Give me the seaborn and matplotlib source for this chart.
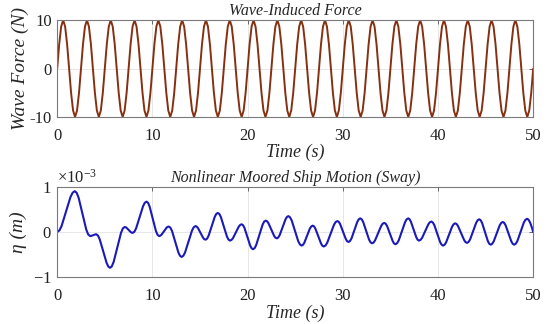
import numpy as np
import pandas as pd
import matplotlib
matplotlib.use("Agg")
import matplotlib.pyplot as plt
import seaborn as sns

# ---------------- data ----------------
# Wave-induced force: one cycle (period 2.5 s), repeated 20 times
force_cycle = [0, 5.0, 8.66, 10.0, 8.66, 5.0, 0, -5.0, -8.66, -10.0, -8.66, -5.0]
force_vals = force_cycle * 20 + [0]
force_time = np.linspace(0, 50, len(force_vals))

# Sway motion (units of 1e-3 m)
eta_time = [0, 0.46, 0.93, 1.39, 1.85, 2.25, 2.65, 3.05, 3.45, 3.61, 3.78, 3.94, 4.1, 4.46, 4.83, 5.19,
            5.55, 5.93, 6.32, 6.70, 7.08, 7.29, 7.51, 7.72, 7.93, 8.29, 8.66, 9.02, 9.38, 9.71, 10.04, 10.37,
            10.7, 10.96, 11.21, 11.47, 11.72, 12.06, 12.40, 12.73, 13.07, 13.43, 13.80, 14.16, 14.52, 14.79,
            15.05, 15.32, 15.58, 15.90, 16.23, 16.55, 16.87, 17.19, 17.51, 17.83, 18.15, 18.46, 18.76, 19.07,
            19.37, 19.67, 19.97, 20.27, 20.57, 20.90, 21.24, 21.57, 21.9, 22.19, 22.49, 22.78, 23.07, 23.37,
            23.68, 23.98, 24.28, 24.63, 24.98, 25.32, 25.67, 25.96, 26.25, 26.54, 26.83, 27.12, 27.42, 27.71,
            28.0, 28.36, 28.72, 29.07, 29.43, 29.72, 30.02, 30.31, 30.6, 30.91, 31.22, 31.52, 31.83, 32.14,
            32.45, 32.76, 33.07, 33.39, 33.71, 34.03, 34.35, 34.65, 34.94, 35.24, 35.53, 35.87, 36.20, 36.54,
            36.87, 37.15, 37.44, 37.72, 38.0, 38.33, 38.65, 38.98, 39.3, 39.61, 39.92, 40.22, 40.53, 40.85,
            41.17, 41.48, 41.8, 42.11, 42.43, 42.74, 43.05, 43.37, 43.69, 44.01, 44.33, 44.63, 44.93, 45.23,
            45.53, 45.85, 46.17, 46.48, 46.8, 47.10, 47.40, 47.70, 48.0, 48.34, 48.68, 49.01, 49.35, 49.51,
            49.68, 49.84, 50.0]
eta_e3 = [0, 0.131, 0.45, 0.769, 0.90, 0.755, 0.405, 0.055, -0.09, -0.084, -0.07, -0.056, -0.05, -0.158,
          -0.42, -0.682, -0.79, -0.659, -0.34, -0.021, 0.11, 0.091, 0.045, -0.001, -0.02, 0.081, 0.325, 0.569,
          0.67, 0.559, 0.29, 0.021, -0.09, -0.059, 0.015, 0.089, 0.12, 0.022, -0.215, -0.452, -0.55, -0.451,
          -0.21, 0.031, 0.13, 0.086, -0.02, -0.126, -0.17, -0.084, 0.125, 0.334, 0.42, 0.331, 0.115, -0.101,
          -0.19, -0.137, -0.01, 0.117, 0.17, 0.09, -0.105, -0.30, -0.38, -0.288, -0.065, 0.158, 0.25, 0.193,
          0.055, -0.083, -0.14, -0.068, 0.105, 0.278, 0.35, 0.255, 0.025, -0.205, -0.30, -0.236, -0.08, 0.076,
          0.14, 0.073, -0.09, -0.253, -0.32, -0.238, -0.04, 0.158, 0.24, 0.173, 0.01, -0.153, -0.22, -0.144,
          0.04, 0.224, 0.30, 0.22, 0.025, -0.17, -0.25, -0.184, -0.025, 0.134, 0.20, 0.131, -0.035, -0.201,
          -0.27, -0.187, 0.015, 0.217, 0.30, 0.228, 0.055, -0.118, -0.19, -0.129, 0.02, 0.169, 0.23, 0.153,
          -0.035, -0.223, -0.30, -0.228, -0.055, 0.118, 0.19, 0.127, -0.025, -0.177, -0.24, -0.164, 0.02,
          0.204, 0.28, 0.198, 0.0, -0.198, -0.28, -0.207, -0.03, 0.147, 0.22, 0.147, -0.03, -0.207, -0.28,
          -0.197, 0.005, 0.207, 0.29, 0.268, 0.205, 0.111, 0.0]

# extra readings close to each crest and trough (keep the peaks round)
eta_time_near_peaks = [0.23, 1.62, 2.05, 3.25, 3.53, 4.02, 4.28, 5.37, 5.74, 6.89, 7.19, 7.82, 8.11, 9.20,
                       9.55, 10.54, 10.83, 11.59, 11.89, 12.90, 13.25, 14.34, 14.65, 15.45, 15.74, 16.71,
                       17.03, 17.99, 18.30, 19.22, 19.52, 20.42, 20.74, 21.73, 22.05, 22.92, 23.22, 24.13,
                       24.45, 25.50, 25.82, 26.69, 26.98, 27.85, 28.18, 29.25, 29.58, 30.45, 30.75, 31.68,
                       31.99, 32.92, 33.23, 34.19, 34.50, 35.38, 35.70, 36.70, 37.01, 37.86, 38.16, 39.14,
                       39.45, 40.38, 40.69, 41.64, 41.96, 42.89, 43.21, 44.17, 44.48, 45.38, 45.69, 46.64,
                       46.95, 47.85, 48.17, 49.18, 49.43]
eta_e3_near_peaks = [0.034, 0.866, 0.862, -0.052, -0.088, -0.052, -0.078, -0.762, -0.756, 0.076, 0.105,
                     -0.015, 0.006, 0.644, 0.641, -0.061, -0.082, 0.112, 0.095, -0.525, -0.524, 0.104, 0.119,
                     -0.159, -0.148, 0.398, 0.397, -0.167, -0.176, 0.156, 0.149, -0.359, -0.356, 0.226, 0.235,
                     -0.125, -0.121, 0.331, 0.325, -0.275, -0.283, 0.123, 0.123, -0.303, -0.299, 0.219, 0.223,
                     -0.203, -0.20, 0.28, 0.279, -0.229, -0.233, 0.183, 0.182, -0.252, -0.248, 0.278, 0.281,
                     -0.171, -0.174, 0.214, 0.21, -0.28, -0.281, 0.171, 0.174, -0.224, -0.22, 0.26, 0.259,
                     -0.259, -0.261, 0.201, 0.201, -0.261, -0.258, 0.268, 0.284]

x_ticks = [0, 10, 20, 30, 40, 50]
force_ticks = [-10, 0, 10]
eta_ticks_e3 = [-1, 0, 1]

title_top = "Wave-Induced Force"
title_bot = "Nonlinear Moored Ship Motion (Sway)"
xlabel = "Time (s)"
ylabel_top = "Wave Force (N)"
ylabel_bot = "η (m)"

# ---------------- style ----------------
sns.set_theme(style="white")
plt.rcParams["font.family"] = ["Liberation Serif", "DejaVu Serif"]
plt.rcParams["mathtext.fontset"] = "custom"
plt.rcParams["mathtext.rm"] = "Liberation Serif"
plt.rcParams["mathtext.it"] = "Liberation Serif:italic"
plt.rcParams["axes.unicode_minus"] = False

df_force = pd.DataFrame({"t": force_time, "F": force_vals})
df_eta = pd.DataFrame({"t": eta_time + eta_time_near_peaks,
                       "eta": np.array(eta_e3 + eta_e3_near_peaks) * 1e-3})

fig = plt.figure(figsize=(5.5, 3.24), dpi=100)
ax1 = fig.add_axes([0.104, 0.639, 0.8655, 0.299])
ax2 = fig.add_axes([0.104, 0.144, 0.8655, 0.280])

sns.lineplot(data=df_force, x="t", y="F", ax=ax1, color="#863012", linewidth=1.4,
             estimator=None, sort=True)
sns.lineplot(data=df_eta, x="t", y="eta", ax=ax2, color="#1a1ab8", linewidth=1.5,
             estimator=None, sort=True)

for ax in (ax1, ax2):
    ax.set_xlim(0, 50)
    ax.set_xticks(x_ticks)
    ax.grid(True, color="#e3e3e3", linewidth=0.6)
    for s in ax.spines.values():
        s.set_color("#7a7a7a")
        s.set_linewidth(0.8)
    ax.tick_params(direction="in", length=3, width=0.6, color="#555555",
                   top=True, right=True, labelsize=12, labelcolor="#222222", pad=8)
    ax.tick_params(axis="y", pad=4)
    ax.set_xlabel(xlabel, fontsize=13, fontstyle="italic", labelpad=0)

ax1.set_ylim(-10, 10)
ax1.set_yticks(force_ticks)
ax1.set_title(title_top, fontsize=11.5, fontstyle="italic", pad=4)
ax1.set_ylabel(ylabel_top, fontsize=14, fontstyle="italic", labelpad=0)

ax2.set_ylim(-1e-3, 1e-3)
ax2.set_yticks(np.array(eta_ticks_e3) * 1e-3)
ax2.ticklabel_format(axis="y", style="sci", scilimits=(0, 0), useMathText=True)
ax2.yaxis.get_offset_text().set_fontsize(12)
ax2.set_title(title_bot, fontsize=11.5, fontstyle="italic", pad=3)
ax2.set_ylabel(ylabel_bot, fontsize=14, fontstyle="italic", labelpad=4)

fig.savefig("out.png", dpi=100)
